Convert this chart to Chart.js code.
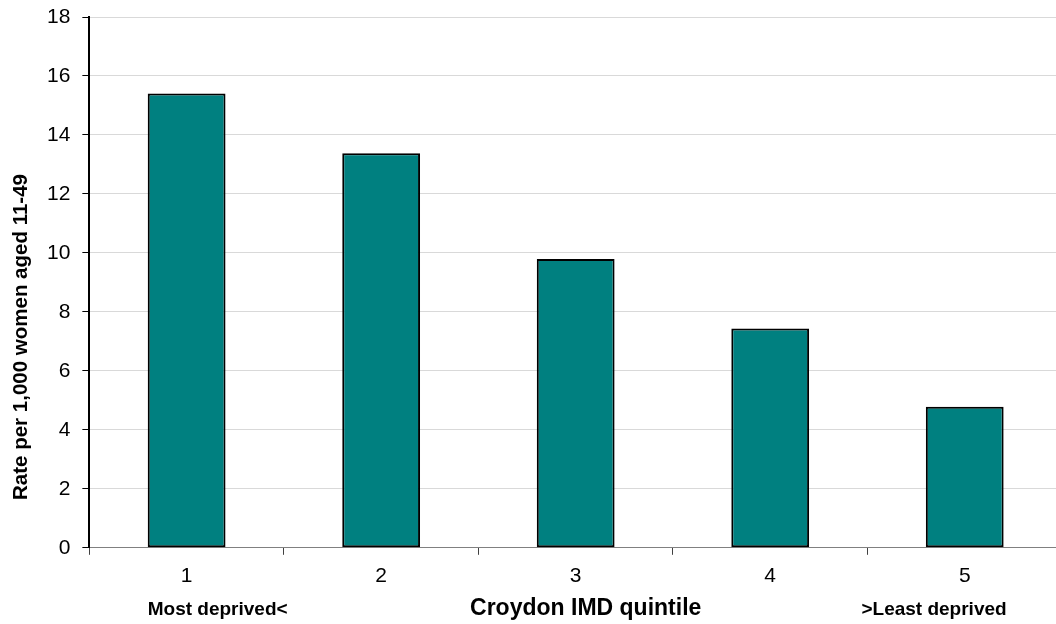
<!DOCTYPE html>
<html><head><meta charset="utf-8">
<script src="https://cdn.jsdelivr.net/npm/chart.js@4"></script>
<style>
html,body{margin:0;padding:0;overflow:hidden;background:#fff;}
#wrap{width:1062px;height:624px;position:relative;}
</style></head>
<body><div id="wrap"><canvas id="c"></canvas></div>
<script>
const categories = ["1","2","3","4","5"];
const rates = [15.41, 13.38, 9.79, 7.44, 4.78];
const yTicks = [0,2,4,6,8,10,12,14,16,18];
const sideLabels = ["Most deprived<", ">Least deprived"];
const xTitle = "Croydon IMD quintile";
const yTitle = "Rate per 1,000 women aged 11-49";
const FONT = '"Liberation Sans", Arial, sans-serif';

const textPlugin = {
  id:'texts',
  afterDraw(chart){
    const ctx = chart.ctx;
    const bars = chart.getDatasetMeta(0).data;
    ctx.save();
    ctx.fillStyle = '#000';
    ctx.textBaseline = 'middle';
    ctx.font = 'bold 19px ' + FONT;
    const b0 = bars[0], bN = bars[bars.length-1];
    ctx.textAlign = 'left';
    ctx.fillText(sideLabels[0], b0.x - b0.width/2, 610);
    ctx.textAlign = 'right';
    ctx.fillText(sideLabels[1], bN.x + bN.width/2 + 3, 610);
    // x axis title
    ctx.textAlign = 'center';
    ctx.font = 'bold 23px ' + FONT;
    const xs = chart.scales.x;
    ctx.fillText(xTitle, xs.getPixelForValue(2) + 10, 609);
    // y axis title
    ctx.translate(21, 337);
    ctx.rotate(-Math.PI/2);
    ctx.font = 'bold 20.5px ' + FONT;
    ctx.fillText(yTitle, 0, 0);
    ctx.restore();
  }
};

new Chart(document.getElementById('c'), {
  type:'bar',
  data:{labels:categories, datasets:[{data:rates, backgroundColor:'#008080', borderColor:'#000', borderWidth:2, borderSkipped:false, barPercentage:0.4, categoryPercentage:1}]},
  options:{
    responsive:true, maintainAspectRatio:false, animation:false,
    layout:{padding:{top:17,right:0,bottom:26,left:35}},
    plugins:{legend:{display:false}, tooltip:{enabled:false}, title:{display:false}},
    scales:{
      x:{
        grid:{offset:true, drawOnChartArea:false, drawTicks:true, tickLength:7, tickColor:'#404040'},
        border:{color:'#808080', width:1},
        ticks:{color:'#000', padding:9, font:{family:FONT, size:21}}
      },
      y:{
        min:0, max:18,
        afterBuildTicks(s){ s.ticks = yTicks.map(v=>({value:v})); },
        afterFit(s){ s.paddingTop = 0; },
        grid:{color:'#d9d9d9', tickColor:'#000', tickLength:7, lineWidth:1},
        border:{color:'#000', width:2},
        ticks:{color:'#000', padding:12, font:{family:FONT, size:21}}
      }
    }
  },
  plugins:[textPlugin]
});
</script></body></html>
